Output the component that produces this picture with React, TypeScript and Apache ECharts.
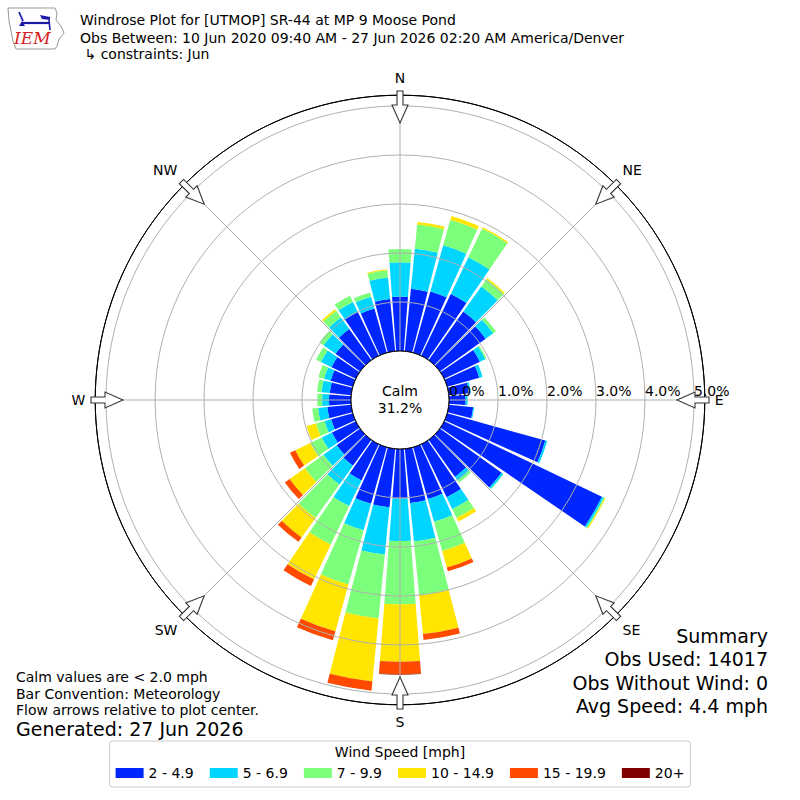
import React, { useEffect, useRef } from "react";
import * as echarts from "echarts";

// ---- data ----
const directionDegrees = [0, 10, 20, 30, 40, 50, 60, 70, 80, 90, 100, 110, 120, 130, 140, 150, 160, 170,
  180, 190, 200, 210, 220, 230, 240, 250, 260, 270, 280, 290, 300, 310, 320, 330, 340, 350];
const speedBins = ["2 - 4.9", "5 - 6.9", "7 - 9.9", "10 - 14.9", "15 - 19.9", "20+"];
const binColors = ["#0026ff", "#00d5ff", "#7cff7a", "#ffe500", "#ff4a00", "#800000"];

// percent of observations, per direction (N, 10, 20 ... 350)
const bin2to5 = [1.11, 1.28, 1.30, 1.40, 1.22, 1.15, 0.81, 0.68, 0.41, 0.34, 0.50, 2.08, 3.57, 1.55, 0.93, 1.20, 1.10, 1.11,
  1.01, 1.20, 1.20, 0.82, 0.65, 0.59, 0.54, 0.46, 0.49, 0.45, 0.44, 0.47, 0.55, 0.62, 0.78, 0.99, 0.94, 1.07];
const bin5to7 = [0.70, 0.82, 0.98, 0.83, 0.63, 0.19, 0.12, 0.07, 0.04, 0.04, 0.02, 0.04, 0.04, 0.04, 0.09, 0.27, 0.48, 0.79,
  0.87, 0.97, 0.56, 0.58, 0.47, 0.33, 0.23, 0.14, 0.19, 0.14, 0.17, 0.14, 0.24, 0.30, 0.29, 0.23, 0.25, 0.44];
const bin7to10 = [0.27, 0.50, 0.54, 0.65, 0.18, 0.07, 0.03, 0, 0, 0, 0, 0, 0.02, 0.01, 0.05, 0.20, 0.62, 1.10,
  1.29, 1.31, 1.15, 0.87, 0.84, 0.47, 0.26, 0.18, 0.12, 0.10, 0.09, 0.12, 0.11, 0.10, 0.17, 0.14, 0.09, 0.15];
const bin10to15 = [0, 0.05, 0.08, 0.03, 0.03, 0, 0, 0, 0, 0, 0, 0, 0.02, 0, 0, 0.08, 0.35, 0.80,
  1.17, 1.29, 0.99, 0.79, 0.49, 0.38, 0.34, 0.20, 0, 0, 0, 0, 0, 0, 0.04, 0, 0, 0.02];
const bin15to20 = [0, 0, 0, 0, 0, 0, 0, 0, 0, 0, 0, 0, 0, 0, 0, 0, 0.08, 0.12,
  0.26, 0.19, 0.19, 0.15, 0.11, 0.12, 0.12, 0, 0, 0, 0, 0, 0, 0, 0, 0, 0, 0];
const bin20plus = [0, 0, 0, 0, 0, 0, 0, 0, 0, 0, 0, 0, 0, 0, 0, 0, 0, 0,
  0.01, 0, 0, 0, 0, 0, 0, 0, 0, 0, 0, 0, 0, 0, 0, 0, 0, 0];
const binValues = [bin2to5, bin5to7, bin7to10, bin10to15, bin15to20, bin20plus];

const calmPercent = 31.2;
const radialTicks = [0, 1, 2, 3, 4, 5];
const compassNames = ["N", "NE", "E", "SE", "S", "SW", "W", "NW"];
const compassAngles = [0, 45, 90, 135, 180, 225, 270, 315];

const titleLines = [
  "Windrose Plot for [UTMOP] SR-44 at MP 9 Moose Pond",
  "Obs Between: 10 Jun 2020 09:40 AM - 27 Jun 2026 02:20 AM America/Denver",
  " \u21b3 constraints: Jun",
];
const noteLines = [
  "Calm values are < 2.0 mph",
  "Bar Convention: Meteorology",
  "Flow arrows relative to plot center.",
];
const generatedText = "Generated: 27 Jun 2026";
const summaryLines = ["Summary", "Obs Used: 14017", "Obs Without Wind: 0", "Avg Speed: 4.4 mph"];
const legendTitle = "Wind Speed [mph]";

// ---- layout ----
const FONT = '"DejaVu Sans", sans-serif';
const CX = 400;
const CY = 400;
const PX_PER_PCT = 49;
const R_MIN = -1;
const R_MAX = 5.22;
const RADIUS = (R_MAX - R_MIN) * PX_PER_PCT;
const CALM_R = -R_MIN * PX_PER_PCT;

function arrowElement(angleDeg: number) {
  const tip = 277, base = 295, end = 309, hw = 8, sw = 3;
  return {
    type: "polygon",
    x: CX,
    y: CY,
    rotation: (-angleDeg * Math.PI) / 180,
    z: 20,
    shape: {
      points: [
        [-sw, -end], [sw, -end], [sw, -base], [hw, -base], [0, -tip], [-hw, -base], [-sw, -base],
      ],
    },
    style: { fill: "#ffffff", stroke: "#333333", lineWidth: 1.1 },
  };
}

function textEl(text: string, x: number, y: number, size: number, align = "left", extra: any = {}) {
  return {
    type: "text",
    x,
    y,
    z: 30,
    style: {
      text,
      fill: "#000",
      font: `${size}px ${FONT}`,
      align,
      verticalAlign: "middle",
      ...extra,
    },
  };
}

export default function App() {
  const ref = useRef<HTMLDivElement>(null);

  useEffect(() => {
    if (!ref.current) return;
    const chart = echarts.init(ref.current, null, { renderer: "svg" });

    const dirLabels = directionDegrees.map((d) => String(d));

    const graphics: any[] = [];
    // logo
    graphics.push({
      type: "group",
      z: 30,
      children: [
        {
          type: "polyline",
          shape: {
            points: [[8, 8], [55, 8], [57, 13], [56, 20], [61, 26], [64, 33], [59, 39], [57, 46], [55, 49],
              [16, 49], [13, 41], [11, 31], [9, 21], [8, 8]],
          },
          style: { stroke: "#999", lineWidth: 1, fill: "none" },
        },
        { type: "line", shape: { x1: 22, y1: 23, x2: 50, y2: 23 }, style: { stroke: "#1a1aa8", lineWidth: 2.2 } },
        { type: "line", shape: { x1: 19, y1: 12, x2: 23, y2: 21 }, style: { stroke: "#1a1aa8", lineWidth: 1.8 } },
        { type: "polygon", shape: { points: [[19, 26], [25, 26], [22, 21]] }, style: { fill: "#1a1aa8" } },
        { type: "polygon", shape: { points: [[40, 15], [50, 17], [50, 20], [42, 19]] }, style: { fill: "#1a1aa8" } },
        { type: "line", shape: { x1: 49, y1: 20, x2: 50, y2: 30 }, style: { stroke: "#1a1aa8", lineWidth: 1.6 } },
        {
          type: "text",
          x: 14,
          y: 38,
          style: { text: "IEM", fill: "#d42020", font: `italic 17px "DejaVu Serif", "Liberation Serif", serif`, align: "left", verticalAlign: "middle" },
        },
      ],
    });
    // titles
    titleLines.forEach((t, i) => graphics.push(textEl(t, 80, [20, 38, 54][i], 14)));
    // calm disk
    graphics.push({
      type: "circle",
      z: 15,
      shape: { cx: CX, cy: CY, r: CALM_R },
      style: { fill: "#fff", stroke: "#000", lineWidth: 1 },
    });
    graphics.push(textEl("Calm", CX, CY - 9, 14, "center"));
    graphics.push(textEl(calmPercent.toFixed(1) + "%", CX, CY + 8, 14, "center"));
    // arrows
    compassAngles.forEach((a) => graphics.push(arrowElement(a)));
    // notes
    noteLines.forEach((t, i) => graphics.push(textEl(t, 16, 677 + i * 16.5, 14)));
    graphics.push(textEl(generatedText, 16, 729, 19));
    summaryLines.forEach((t, i) => graphics.push(textEl(t, 768, 636 + i * 23.3, 19, "right")));
    graphics.push(textEl(legendTitle, 400, 752, 14, "center"));

    const option: any = {
      animation: false,
      textStyle: { fontFamily: FONT },
      polar: [
        { center: [CX, CY], radius: RADIUS },
        { center: [CX, CY], radius: RADIUS },
      ],
      angleAxis: [
        {
          polarIndex: 0,
          type: "category",
          data: dirLabels,
          startAngle: 95,
          clockwise: true,
          boundaryGap: true,
          axisLine: { show: false },
          axisTick: { show: false },
          axisLabel: { show: false },
          splitLine: { show: false },
        },
        {
          polarIndex: 1,
          type: "value",
          min: 0,
          max: 360,
          interval: 45,
          startAngle: 0,
          clockwise: true,
          z: 5,
          axisLine: { show: true, lineStyle: { color: "#000", width: 1 } },
          axisTick: { show: false },
          splitLine: { show: true, lineStyle: { color: "#b0b0b0", width: 1 } },
          axisLabel: {
            margin: 10,
            color: "#000",
            fontSize: 14,
            fontFamily: FONT,
            formatter: (v: number) => {
              const compass = (Math.round(v) + 90) % 360;
              const idx = compassAngles.indexOf(compass);
              return v >= 360 || idx < 0 ? "" : compassNames[idx];
            },
          },
        },
      ],
      radiusAxis: [
        {
          polarIndex: 0,
          type: "value",
          min: R_MIN,
          max: R_MAX,
          axisLine: { show: false },
          axisTick: { show: false },
          axisLabel: { show: false },
          splitLine: { show: false },
        },
        {
          polarIndex: 1,
          type: "value",
          min: R_MIN,
          max: R_MAX,
          interval: 1,
          z: 5,
          axisLine: { show: false },
          axisTick: { show: false },
          axisLabel: {
            align: "left",
            verticalAlign: "bottom",
            margin: 2,
            color: "#000",
            fontSize: 14,
            fontFamily: FONT,
            formatter: (v: number) => (radialTicks.indexOf(Math.round(v * 100) / 100) >= 0 ? v.toFixed(1) + "%" : ""),
          },
          splitLine: {
            show: true,
            lineStyle: {
              color: ["rgba(0,0,0,0)", "#000", "#b0b0b0", "#b0b0b0", "#b0b0b0", "#b0b0b0", "#b0b0b0", "#000"],
              width: 1,
            },
          },
        },
      ],
      legend: {
        data: speedBins,
        left: "center",
        top: 741,
        orient: "horizontal",
        icon: "rect",
        itemWidth: 28,
        itemHeight: 10,
        itemGap: 16,
        padding: [25, 6, 7, 6],
        borderColor: "#cccccc",
        borderWidth: 1,
        borderRadius: 3,
        backgroundColor: "#fff",
        textStyle: { fontSize: 14, color: "#000", fontFamily: FONT },
        selectedMode: false,
      },
      series: speedBins.map((name, i) => ({
        type: "bar",
        name,
        coordinateSystem: "polar",
        polarIndex: 0,
        stack: "wind",
        data: binValues[i],
        barCategoryGap: "12%",
        itemStyle: { color: binColors[i] },
        silent: true,
        z: 2,
      })),
      graphic: { elements: graphics },
    };

    chart.setOption(option);
    return () => chart.dispose();
  }, []);

  return (
    <div
      ref={ref}
      style={{ position: "fixed", left: 0, top: 0, width: 800, height: 800, background: "#fff" }}
    />
  );
}
